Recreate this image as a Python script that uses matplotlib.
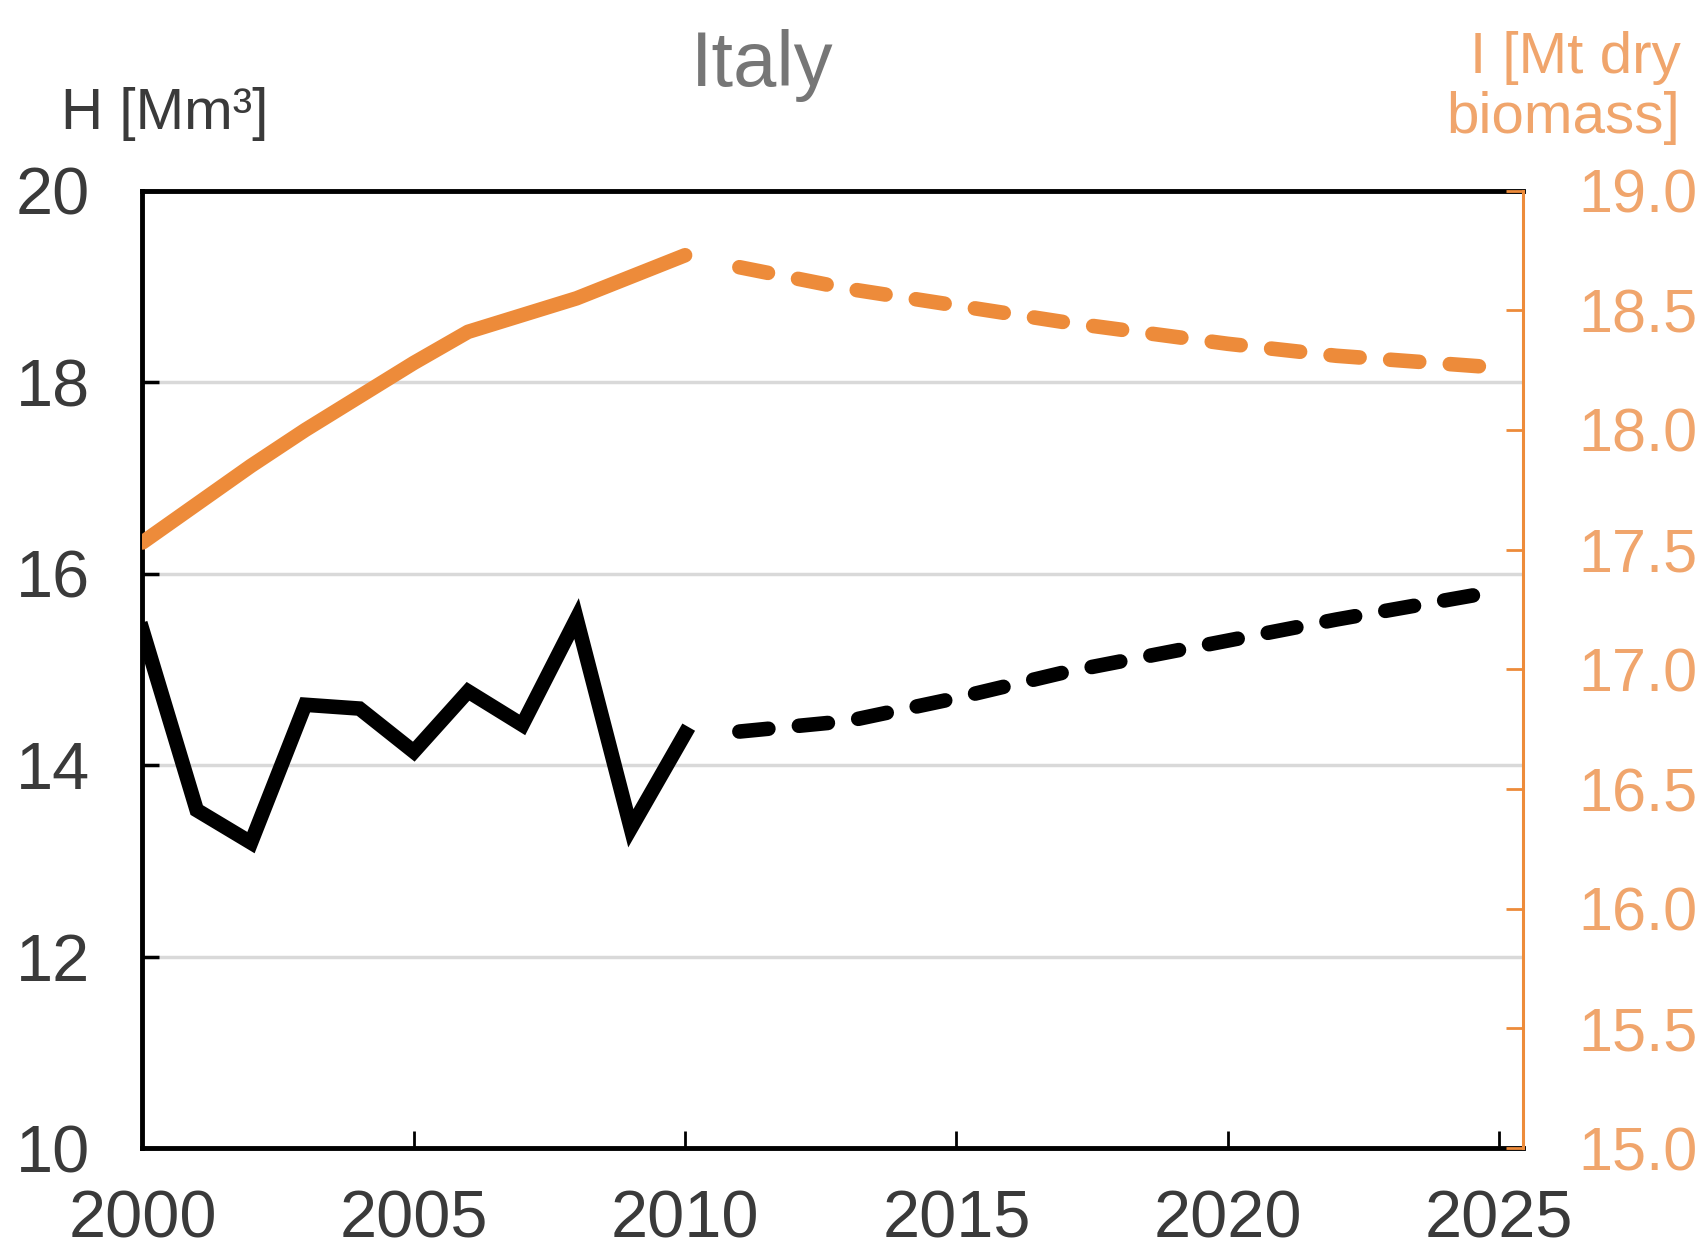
import matplotlib
matplotlib.use("Agg")
import matplotlib.pyplot as plt
from matplotlib.ticker import FormatStrFormatter

# harvest H [Mm3], observed 2000-2010 and projected 2011-2025
years_obs = [2000, 2001, 2002, 2003, 2004, 2005, 2006, 2007, 2008, 2009, 2010]
harvest_obs = [15.41, 13.53, 13.19, 14.63, 14.59, 14.14, 14.77, 14.42, 15.53, 13.34, 14.33]
years_proj = [2011, 2013, 2015, 2017, 2020, 2022, 2025]
harvest_proj = [14.35, 14.46, 14.70, 14.97, 15.30, 15.52, 15.82]

# increment I [Mt dry biomass]
increment_obs = [17.53, 17.69, 17.85, 18.0, 18.14, 18.28, 18.41, 18.48, 18.55, 18.64, 18.73]
increment_proj = [18.68, 18.59, 18.52, 18.45, 18.36, 18.31, 18.26]

left_ticks = [10, 12, 14, 16, 18, 20]
right_ticks = [15.0, 15.5, 16.0, 16.5, 17.0, 17.5, 18.0, 18.5, 19.0]
x_ticks = [2000, 2005, 2010, 2015, 2020, 2025]

orange = "#ED8B3A"
orange_text = "#F0A56C"
dark = "#3a3a3a"

plt.rcParams["font.family"] = ["Liberation Sans", "DejaVu Sans"]

fig = plt.figure(figsize=(17.06, 12.54), dpi=100)
ax = fig.add_axes([0.0835, 0.0845, 0.8092, 0.7635])
ax2 = ax.twinx()

lw = 10.5
ax.plot(years_obs, harvest_obs, color="black", lw=lw, solid_joinstyle="miter", zorder=3)
ax.plot(years_proj, harvest_proj, color="black", lw=lw, dashes=(2.0, 2.1),
        dash_capstyle="round", zorder=3)
ax2.plot(years_obs, increment_obs, color=orange, lw=lw, solid_capstyle="round",
         solid_joinstyle="round", zorder=3)
ax2.plot(years_proj, increment_proj, color=orange, lw=lw, dashes=(2.0, 2.1),
         dash_capstyle="round", zorder=3)

ax.set_xlim(2000, 2025.44)
ax.set_ylim(10, 20)
ax2.set_ylim(15, 19)

ax.set_xticks(x_ticks)
ax.set_yticks(left_ticks)
ax2.set_yticks(right_ticks)
ax2.yaxis.set_major_formatter(FormatStrFormatter("%.1f"))

ax.yaxis.grid(True, color="#d9d9d9", lw=2.5)
ax.set_axisbelow(True)

for side in ["left", "bottom", "top"]:
    ax.spines[side].set_linewidth(3.5)
    ax.spines[side].set_color("black")
ax.spines["right"].set_visible(False)
for side in ["left", "bottom", "top"]:
    ax2.spines[side].set_visible(False)
ax2.spines["right"].set_color(orange)
ax2.spines["right"].set_linewidth(2.2)

ax.tick_params(axis="x", direction="in", length=12, width=2, pad=30,
               labelsize=48, labelcolor=dark)
ax.tick_params(axis="y", direction="in", length=12, width=2.5, pad=38,
               labelsize=48, labelcolor=dark)
ax2.tick_params(axis="y", direction="in", length=12, width=2, color=orange,
                pad=40, labelsize=44, labelcolor=orange_text)

fig.text(0.447, 0.948, "Italy", ha="center", va="center", fontsize=56, color="#767676")
fig.text(0.036, 0.909, "H [Mm³]", ha="left", va="center", fontsize=42, color=dark)
fig.text(0.985, 0.930, "I [Mt dry\nbiomass]", ha="right", va="center", fontsize=42,
         color=orange_text, linespacing=1.15)

fig.savefig("out.png", dpi=100)
